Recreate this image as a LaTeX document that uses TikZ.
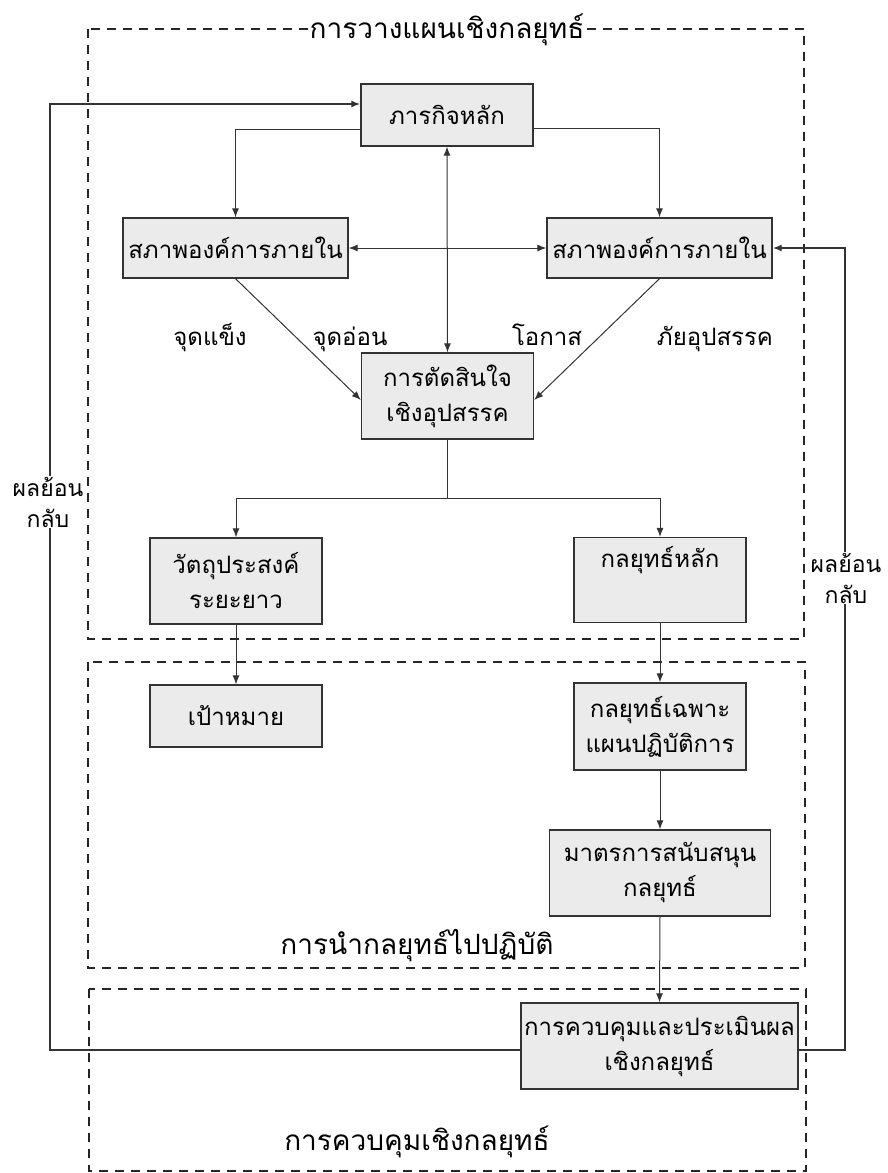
\documentclass[tikz,border=0pt]{standalone}
\usepackage{fontspec}
\usepackage{tikz}
\usetikzlibrary{arrows.meta,positioning,calc}
\newfontfamily\thaifont[Script=Thai]{Loma}

\begin{document}
\begin{tikzpicture}[
    x=1pt, y=-1pt,
    box/.style={
        rectangle, draw=black!80, line width=1.3pt,
        fill=black!8, minimum width=172pt, minimum height=62pt,
        align=center, font=\thaifont\fontsize{24}{35}\selectfont, inner sep=2pt
    },
    % Main flow: thin solid arrow
    flowline/.style={
        ->, >={Latex[length=9pt,width=7pt]}, line width=1pt, black!80
    },
    % Feedback loop: heavier solid arrow
    fbline/.style={
        ->, >={Latex[length=9pt,width=7pt]}, line width=1.8pt, black!80
    },
    % Stage frames: dashed
    zone/.style={
        dash pattern=on 9pt off 7pt, line width=1.6pt, black!85
    },
    lbl/.style={
        font=\thaifont\fontsize{24}{31}\selectfont, align=center, inner sep=1pt
    },
    zonelbl/.style={
        font=\thaifont\fontsize{28}{32}\selectfont, fill=white, inner sep=1pt
    }
]
\useasboundingbox (0,0) rectangle (888,1173);

% === Stage frames ===
\draw[zone] (88,29) rectangle (804,639);
\draw[zone] (88,662) rectangle (805,968);
\draw[zone] (89,989) rectangle (806,1171);

\node[zonelbl, anchor=base] (planT) at (447,38) {การวางแผนเชิงกลยุทธ์};
\node[zonelbl, anchor=base, fill=none] (implT) at (417,954) {การนำกลยุทธ์ไปปฏิบัติ};
\node[zonelbl, anchor=base, fill=none] (ctrlT) at (417,1150) {การควบคุมเชิงกลยุทธ์};

% === Nodes ===
\node[box] (mission) at (447,115)   {ภารกิจหลัก};
\node[box, minimum width=225pt, minimum height=60pt] (intL) at (235.5,248) {สภาพองค์การภายใน};
\node[box, minimum width=225pt, minimum height=60pt] (intR) at (659.5,248) {สภาพองค์การภายใน};
\node[box, minimum height=86pt] (decide) at (447.5,396) {การตัดสินใจ\\เชิงอุปสรรค};

\node[box, minimum height=86pt] (obj)   at (236,581) {วัตถุประสงค์\\ระยะยาว};
\node[box, minimum height=85pt] (strat) at (660,580) {กลยุทธ์หลัก\\\strut};
\node[box] (goal) at (236,716) {เป้าหมาย};
\node[box, minimum height=87pt] (func) at (660,726.5) {กลยุทธ์เฉพาะ\\แผนปฏิบัติการ};
\node[box, minimum width=221pt, minimum height=86pt] (support) at (660,873) {มาตรการสนับสนุน\\กลยุทธ์};
\node[box, minimum width=277pt, minimum height=86pt] (control) at (659.5,1046) {การควบคุมและประเมินผล\\เชิงกลยุทธ์};

% ============================================================
% === Planning flow
% ============================================================
\draw[flowline] ([yshift=-14pt]mission.west) -| (intL.north);
\draw[flowline] ([yshift=-13pt]mission.east) -| (intR.north);
\draw[flowline, <->] (intL.east) -- (intR.west);
\draw[flowline, <->] (mission.south) -- (decide.north);

\draw[flowline] (intL.south) -- ([yshift=-4pt]decide.west);
\draw[flowline] (intR.south) -- ([yshift=-4pt]decide.east);

\node[lbl, anchor=base] (str) at (210,345) {จุดแข็ง};
\node[lbl, anchor=base] (wk)  at (350,345) {จุดอ่อน};
\node[lbl, anchor=base] (opp) at (547,345) {โอกาส};
\node[lbl, anchor=base] (thr) at (715,345) {ภัยอุปสรรค};

% decision splits into objectives and strategy
\coordinate (split) at (447.5,498);
\draw[flowline, -] (decide.south) -- (split);
\draw[flowline] (split) -| (obj.north);
\draw[flowline] (split) -| (strat.north);

% ============================================================
% === Implementation and control
% ============================================================
\draw[flowline] (obj.south) -- (goal.north);
\draw[flowline] (strat.south) -- (func.north);
\draw[flowline] (func.south) -- (support.north);
\draw[flowline] (support.south) -- (control.north);

% ============================================================
% === Feedback loops
% ============================================================
\coordinate (fbL) at (50,0);
\coordinate (fbR) at (845,0);
\draw[fbline] ([yshift=-4pt]control.west) -- ([yshift=-4pt]control.west -| fbL)
    -- ([yshift=11pt]mission.west -| fbL) -- ([yshift=11pt]mission.west);
\draw[fbline] ([yshift=-4pt]control.east) -- ([yshift=-4pt]control.east -| fbR)
    -- (intR.east -| fbR) -- (intR.east);

\node[lbl, fill=white, font=\thaifont\fontsize{23}{31}\selectfont] (fbLtxt) at (48,502) {ผลย้อน\\กลับ};
\node[lbl, fill=white, font=\thaifont\fontsize{23}{31}\selectfont] (fbRtxt) at (846,578) {ผลย้อน\\กลับ};

\end{tikzpicture}
\end{document}
